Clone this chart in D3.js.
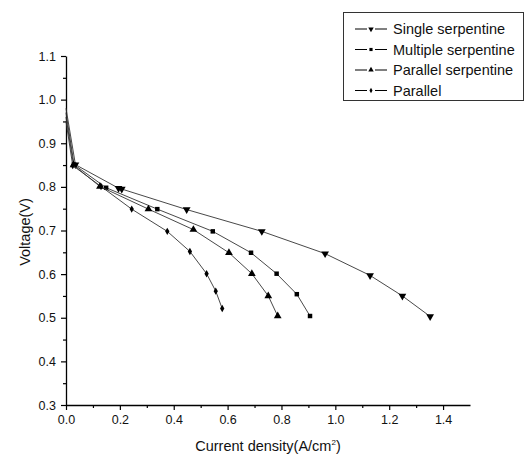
<!DOCTYPE html>
<html>
<head>
<meta charset="utf-8">
<script src="https://cdn.jsdelivr.net/npm/d3@7"></script>
<style>
body{margin:0;background:#fff;}
text{font-family:"Liberation Sans",Arial,sans-serif;fill:#111;}
</style>
</head>
<body>
<div id="chart"></div>
<script>
// series: current density (A/cm2) and voltage (V)
var seriesNames=["Single serpentine","Multiple serpentine","Parallel serpentine","Parallel"];
var singleX=[0,0.035,0.195,0.207,0.448,0.727,0.962,1.129,1.249,1.352];
var singleY=[0.98,0.851,0.797,0.795,0.748,0.698,0.647,0.597,0.550,0.503];
var multipleX=[0,0.03,0.149,0.339,0.545,0.687,0.782,0.857,0.906];
var multipleY=[0.97,0.851,0.798,0.749,0.698,0.649,0.601,0.554,0.504];
var parSerpX=[0,0.028,0.126,0.306,0.473,0.605,0.690,0.751,0.786];
var parSerpY=[0.96,0.850,0.801,0.749,0.702,0.649,0.601,0.550,0.504];
var parallelX=[0,0.025,0.13,0.244,0.376,0.46,0.522,0.556,0.580];
var parallelY=[0.95,0.849,0.801,0.749,0.698,0.652,0.601,0.561,0.521];
var xTicks=[0,0.2,0.4,0.6,0.8,1.0,1.2,1.4];
var yTicks=[0.3,0.4,0.5,0.6,0.7,0.8,0.9,1.0,1.1];

var width=526, height=461;
var padL=66, padR=470, padT=56, padB=405; // plot area in pixels

var svg=d3.select("#chart").append("svg").attr("width",width).attr("height",height);

var xScale=d3.scaleLinear().domain([0,1.5]).range([padL,padR]);
var yScale=d3.scaleLinear().domain([0.3,1.1]).range([padB,padT]);

// minor ticks first, then major axes on top
svg.append("g").attr("transform","translate(0,"+padB+")")
	.call(d3.axisBottom(xScale).tickValues(d3.range(0.1,1.5,0.2)).tickSize(3).tickFormat(""))
	.call(function(g){g.select(".domain").remove();});
svg.append("g").attr("transform","translate("+padL+",0)")
	.call(d3.axisLeft(yScale).tickValues(d3.range(0.35,1.1,0.1)).tickSize(3).tickFormat(""))
	.call(function(g){g.select(".domain").remove();});

svg.append("g").attr("transform","translate(0,"+padB+")")
	.call(d3.axisBottom(xScale).tickValues(xTicks).tickSize(5).tickSizeOuter(0).tickPadding(5).tickFormat(d3.format(".1f")));
svg.append("g").attr("transform","translate("+padL+",0)")
	.call(d3.axisLeft(yScale).tickValues(yTicks).tickSize(5).tickSizeOuter(0).tickPadding(5).tickFormat(d3.format(".1f")));
svg.selectAll(".domain").attr("stroke","#000").attr("stroke-width",1.3);
svg.selectAll(".tick line").attr("stroke","#000").attr("stroke-width",1.2);
svg.selectAll(".tick text").style("font-size","12.5px").style("font-family","'Liberation Sans',Arial,sans-serif").attr("fill","#111");

var xl=svg.append("text").attr("x",(padL+padR)/2).attr("y",451).attr("text-anchor","middle")
	.style("font-size","14.5px");
xl.append("tspan").text("Current density(A/cm");
xl.append("tspan").attr("dy",-6).style("font-size","8px").text("2");
xl.append("tspan").attr("dy",6).text(")");
svg.append("text").attr("transform","translate(30,232) rotate(-90)").attr("text-anchor","middle")
	.style("font-size","14.5px").text("Voltage(V)");

var series=[
	{name:seriesNames[0],xs:singleX,ys:singleY,sym:d3.symbolTriangle,rot:180,size:26},
	{name:seriesNames[1],xs:multipleX,ys:multipleY,sym:d3.symbolSquare,rot:0,size:20},
	{name:seriesNames[2],xs:parSerpX,ys:parSerpY,sym:d3.symbolTriangle,rot:0,size:26},
	{name:seriesNames[3],xs:parallelX,ys:parallelY,sym:d3.symbolDiamond,rot:0,size:16}
];

var line=d3.line().x(function(d){return xScale(d[0]);}).y(function(d){return yScale(d[1]);});

series.forEach(function(s){
	var pts=s.xs.map(function(x,i){return [x,s.ys[i]];});
	svg.append("path").datum(pts).attr("d",line).attr("fill","none")
		.attr("stroke","#333").attr("stroke-width",0.9);
	svg.selectAll(null).data(pts.slice(1)).enter().append("path")
		.attr("d",d3.symbol().type(s.sym).size(s.size))
		.attr("transform",function(d){return "translate("+xScale(d[0])+","+yScale(d[1])+") rotate("+s.rot+")";})
		.attr("fill","#000");
});

// legend
var lg=svg.append("g");
lg.append("rect").attr("x",343.5).attr("y",12.5).attr("width",180).attr("height",88)
	.attr("fill","#fff").attr("stroke","#333").attr("stroke-width",1);
series.forEach(function(s,i){
	var y=29+i*20.5;
	lg.append("line").attr("x1",355).attr("x2",367).attr("y1",y).attr("y2",y).attr("stroke","#000");
	lg.append("line").attr("x1",375).attr("x2",387).attr("y1",y).attr("y2",y).attr("stroke","#000");
	lg.append("path").attr("d",d3.symbol().type(s.sym).size(s.size*0.5))
		.attr("transform","translate(371,"+y+") rotate("+s.rot+")").attr("fill","#000");
	lg.append("text").attr("x",393).attr("y",y+5).style("font-size","14.5px").text(s.name);
});
</script>
</body>
</html>
